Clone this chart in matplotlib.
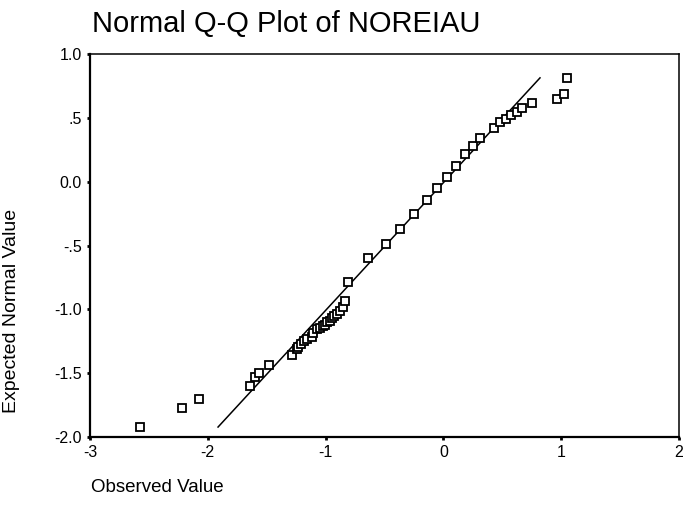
import matplotlib
matplotlib.use("Agg")
import matplotlib.pyplot as plt

plt.rcParams['font.family'] = ['Liberation Sans', 'DejaVu Sans']

# observed value (x) vs expected normal value (y)
observed = [-2.576, -2.219, -2.075, -1.642, -1.599, -1.565, -1.480, -1.285, -1.243, -1.234,
            -1.209, -1.183, -1.158, -1.115, -1.107, -1.073, -1.048, -1.022, -1.005, -0.988,
            -0.963, -0.946, -0.929, -0.904, -0.878, -0.852, -0.835, -0.810, -0.640, -0.487,
            -0.369, -0.250, -0.139, -0.054, 0.031, 0.107, 0.183, 0.251, 0.311, 0.429,
            0.480, 0.531, 0.574, 0.625, 0.667, 0.752, 0.964, 1.024, 1.049]
expected = [-1.922, -1.773, -1.703, -1.602, -1.531, -1.500, -1.438, -1.359, -1.313, -1.297,
            -1.273, -1.250, -1.234, -1.219, -1.188, -1.156, -1.148, -1.133, -1.125, -1.102,
            -1.094, -1.070, -1.055, -1.039, -1.016, -0.984, -0.938, -0.789, -0.594, -0.492,
            -0.367, -0.250, -0.141, -0.047, 0.039, 0.125, 0.219, 0.281, 0.344, 0.422,
            0.469, 0.492, 0.523, 0.547, 0.578, 0.617, 0.648, 0.688, 0.813]
# reference line end points
line_x = [-1.913, 0.820]
line_y = [-1.922, 0.813]

xticks = [-3, -2, -1, 0, 1, 2]
xtick_labels = ['-3', '-2', '-1', '0', '1', '2']
yticks = [1.0, 0.5, 0.0, -0.5, -1.0, -1.5, -2.0]
ytick_labels = ['1.0', '.5', '0.0', '-.5', '-1.0', '-1.5', '-2.0']

fig = plt.figure(figsize=(6.9, 5.13), dpi=100)
ax = fig.add_axes([90/690, 1-437/513, 589/690, 383/513])

ax.plot(line_x, line_y, color='black', lw=1.1)
ax.plot(observed, expected, 's', ms=5.2, mfc='white', mec='black', mew=1.3, clip_on=False)

ax.set_xlim(-3, 2)
ax.set_ylim(-2, 1)
ax.set_xticks(xticks)
ax.set_xticklabels(xtick_labels)
ax.set_yticks(yticks)
ax.set_yticklabels(ytick_labels)
ax.tick_params(direction='out', length=2, width=2, labelsize=11.5, pad=4, color='black')

for side in ['left', 'bottom']:
    ax.spines[side].set_linewidth(1.6)
for side in ['top', 'right']:
    ax.spines[side].set_linewidth(1.1)

fig.text(92/690, 1-32/513, 'Normal Q-Q Plot of NOREIAU', fontsize=21, ha='left', va='baseline')
fig.text(91/690, 1-487/513, 'Observed Value', fontsize=13.5, ha='left', va='center')
fig.text(12/690, 1-311/513, 'Expected Normal Value', fontsize=14, ha='center', va='center', rotation=90)

plt.savefig('out.png', dpi=100)
